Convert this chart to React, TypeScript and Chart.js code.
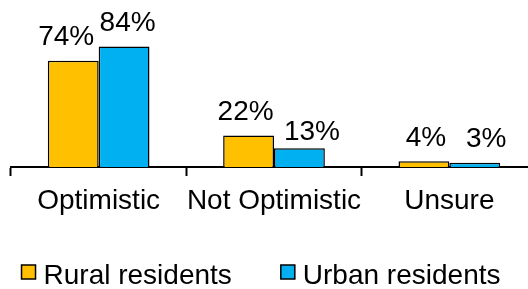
import React, { useEffect, useRef } from 'react';
import { Chart, registerables } from 'chart.js';

Chart.register(...registerables);

const CATEGORIES = ['Optimistic', 'Not Optimistic', 'Unsure'];
const RURAL = [74, 22, 4];
const URBAN = [84, 13, 3];
const SERIES_NAMES = ['Rural residents', 'Urban residents'];
const COLORS = ['#FFC000', '#00B0F0'];
const FONT = "'Liberation Sans', Arial, sans-serif";
const FONT_SIZE = 28;
// Label placement nudges (style only), per series, per category: [dx, dy]
const LABEL_NUDGE = [
  [[-7, 0], [-3, 0], [2, 0]],
  [[3.5, 0], [12.5, 7.5], [11.5, 0]],
];

const valueLabels = {
  id: 'valueLabels',
  afterDatasetsDraw(chart: any) {
    const ctx = chart.ctx;
    ctx.save();
    ctx.font = `${FONT_SIZE}px ${FONT}`;
    ctx.fillStyle = '#000';
    ctx.textAlign = 'center';
    ctx.textBaseline = 'alphabetic';
    chart.data.datasets.forEach((ds: any, i: number) => {
      const meta = chart.getDatasetMeta(i);
      meta.data.forEach((bar: any, j: number) => {
        const [dx, dy] = LABEL_NUDGE[i][j];
        ctx.fillText(`${ds.data[j]}%`, bar.x + dx, bar.y - 15.5 + dy);
      });
    });
    ctx.restore();
  },
};

const customLegend = {
  id: 'customLegend',
  afterDraw(chart: any) {
    const ctx = chart.ctx;
    ctx.save();
    ctx.font = `${FONT_SIZE}px ${FONT}`;
    const sq = 14;
    const gap = 8;
    const spacing = 49;
    const items = chart.data.datasets.map((ds: any) => ({
      text: ds.label,
      color: ds.backgroundColor,
      w: ctx.measureText(ds.label).width,
    }));
    const total =
      items.reduce((s: number, it: any) => s + sq + gap + it.w, 0) + spacing * (items.length - 1);
    let x = 261 - total / 2;
    const cy = 272;
    items.forEach((it: any) => {
      ctx.fillStyle = it.color;
      ctx.fillRect(x, cy - sq / 2, sq, sq);
      ctx.strokeStyle = '#000';
      ctx.lineWidth = 1.5;
      ctx.strokeRect(x, cy - sq / 2, sq, sq);
      ctx.fillStyle = '#000';
      ctx.textAlign = 'left';
      ctx.textBaseline = 'alphabetic';
      ctx.fillText(it.text, x + sq + gap, 284);
      x += sq + gap + it.w + spacing;
    });
    ctx.restore();
  },
};

export default function App() {
  const ref = useRef<HTMLCanvasElement | null>(null);

  useEffect(() => {
    if (!ref.current) return;
    const chart = new Chart(ref.current, {
      type: 'bar',
      data: {
        labels: CATEGORIES,
        datasets: [
          {
            label: SERIES_NAMES[0],
            data: RURAL,
            backgroundColor: COLORS[0],
            borderColor: '#000',
            borderWidth: 1.5,
          },
          {
            label: SERIES_NAMES[1],
            data: URBAN,
            backgroundColor: COLORS[1],
            borderColor: '#000',
            borderWidth: 1.5,
          },
        ],
      },
      options: {
        responsive: false,
        animation: false,
        devicePixelRatio: 1,
        layout: { padding: { top: 23.5, left: 11, right: 3, bottom: 63.4 } },
        datasets: { bar: { categoryPercentage: 0.58, barPercentage: 1 } },
        plugins: {
          legend: { display: false },
          tooltip: { enabled: false },
        },
        scales: {
          x: {
            offset: true,
            grid: {
              display: true,
              drawOnChartArea: false,
              drawTicks: true,
              tickLength: 9,
              tickWidth: 2,
              tickColor: '#000',
              offset: true,
            },
            border: { display: true, color: '#000', width: 2 },
            ticks: {
              color: '#000',
              font: { family: FONT, size: FONT_SIZE },
              padding: 8,
              maxRotation: 0,
              autoSkip: false,
            },
          },
          y: { display: false, min: 0, max: 100 },
        },
      },
      plugins: [valueLabels, customLegend],
    } as any);
    return () => chart.destroy();
  }, []);

  return (
    <div
      style={{
        position: 'absolute',
        left: 0,
        top: 0,
        width: 528,
        height: 289,
        overflow: 'hidden',
        background: '#fff',
      }}
    >
      <canvas ref={ref} width={540} height={289} style={{ width: 540, height: 289, display: 'block' }} />
    </div>
  );
}
